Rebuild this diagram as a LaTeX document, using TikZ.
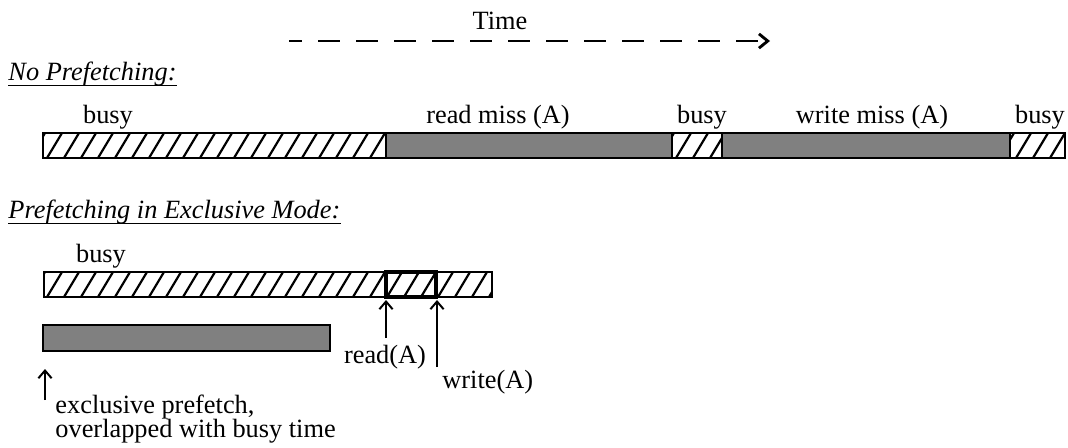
\documentclass[tikz,border=0pt]{standalone}
\usepackage{fontspec}
\setmainfont{Liberation Serif}
\usetikzlibrary{arrows.meta,positioning}

\tikzset{
  bar/.style={draw, line width=1.2pt},
  miss/.style={bar, fill=black!50},
  hatchline/.style={line width=1pt},
  lbl/.style={inner sep=0pt, anchor=base},
  uline/.style={line width=0.6pt},
  ptr/.style={-{Straight Barb[length=3.5pt,width=6pt]}, line width=0.9pt},
  timeline/.style={-{Straight Barb[length=4pt,width=6.5pt]}, line width=1.3pt, dash pattern=on 10pt off 7.3pt, dash phase=4pt},
}
% hatched busy segment: left, top, right, bottom
\newcommand{\busybar}[4]{%
  \begin{scope}
    \clip (#1,#2) rectangle (#3,#4);
    \foreach \hx in {-21,-4,...,1080} \draw[hatchline] (\hx,#4) -- ++(15,-25);
  \end{scope}
  \draw[bar] (#1,#2) rectangle (#3,#4);}

\begin{document}
\begin{tikzpicture}[x=0.016cm, y=-0.016cm, font=\fontsize{12}{14}\selectfont]
\useasboundingbox (0,0) rectangle (1068,447);

% time axis
\coordinate (t0) at (289,41);
\coordinate (t1) at (770,41);
\draw[timeline] (t0) -- (t1);
\node[lbl] (time) at (500,29) {Time};

% no prefetching
\node[lbl, anchor=base west] (nopf) at (8,80) {\textit{No Prefetching:}};
\draw[uline] ([yshift=-2.4pt]nopf.base west) -- ([yshift=-2.4pt]nopf.base east);
\busybar{43}{133}{386}{158}
\draw[miss] (386,133) rectangle (672,158);
\busybar{672}{133}{722}{158}
\draw[miss] (722,133) rectangle (1010,158);
\busybar{1010}{133}{1065}{158}
\node[lbl] (busya) at (108,123) {busy};
\node[lbl] (rdmiss) at (498,123) {read miss (A)};
\node[lbl] (busyb) at (702,123) {busy};
\node[lbl] (wrmiss) at (872,123) {write miss (A)};
\node[lbl] (busyc) at (1040,123) {busy};

% prefetching in exclusive mode
\node[lbl, anchor=base west] (expf) at (8,218) {\textit{Prefetching in Exclusive Mode:}};
\draw[uline] ([yshift=-2.4pt]expf.base west) -- ([yshift=-2.4pt]expf.base east);
\node[lbl] (busyd) at (101,262) {busy};
\busybar{44}{272}{386}{297}
\busybar{386}{272}{436}{297}
\draw[line width=1.5pt] (386,272) rectangle (436,297);
\busybar{436}{272}{492}{297}
\draw[miss] (43,325) rectangle (330,351);

% pointers
\coordinate (rdtip) at (386,300);
\coordinate (rdtail) at (386,338);
\coordinate (wrtip) at (437,300);
\coordinate (wrtail) at (437,367);
\coordinate (pftip) at (45,369);
\coordinate (pftail) at (45,400);
\draw[ptr] (rdtail) -- (rdtip);
\draw[ptr] (wrtail) -- (wrtip);
\draw[ptr] (pftail) -- (pftip);
\node[lbl] (rdA) at (385,363) {read(A)};
\node[lbl, anchor=base west] (wrA) at (442,388) {write(A)};
\node[lbl, anchor=base west] (pfa) at (55,413) {exclusive prefetch,};
\node[lbl, anchor=base west] (pfb) at (55,437) {overlapped with busy time};
\end{tikzpicture}
\end{document}
